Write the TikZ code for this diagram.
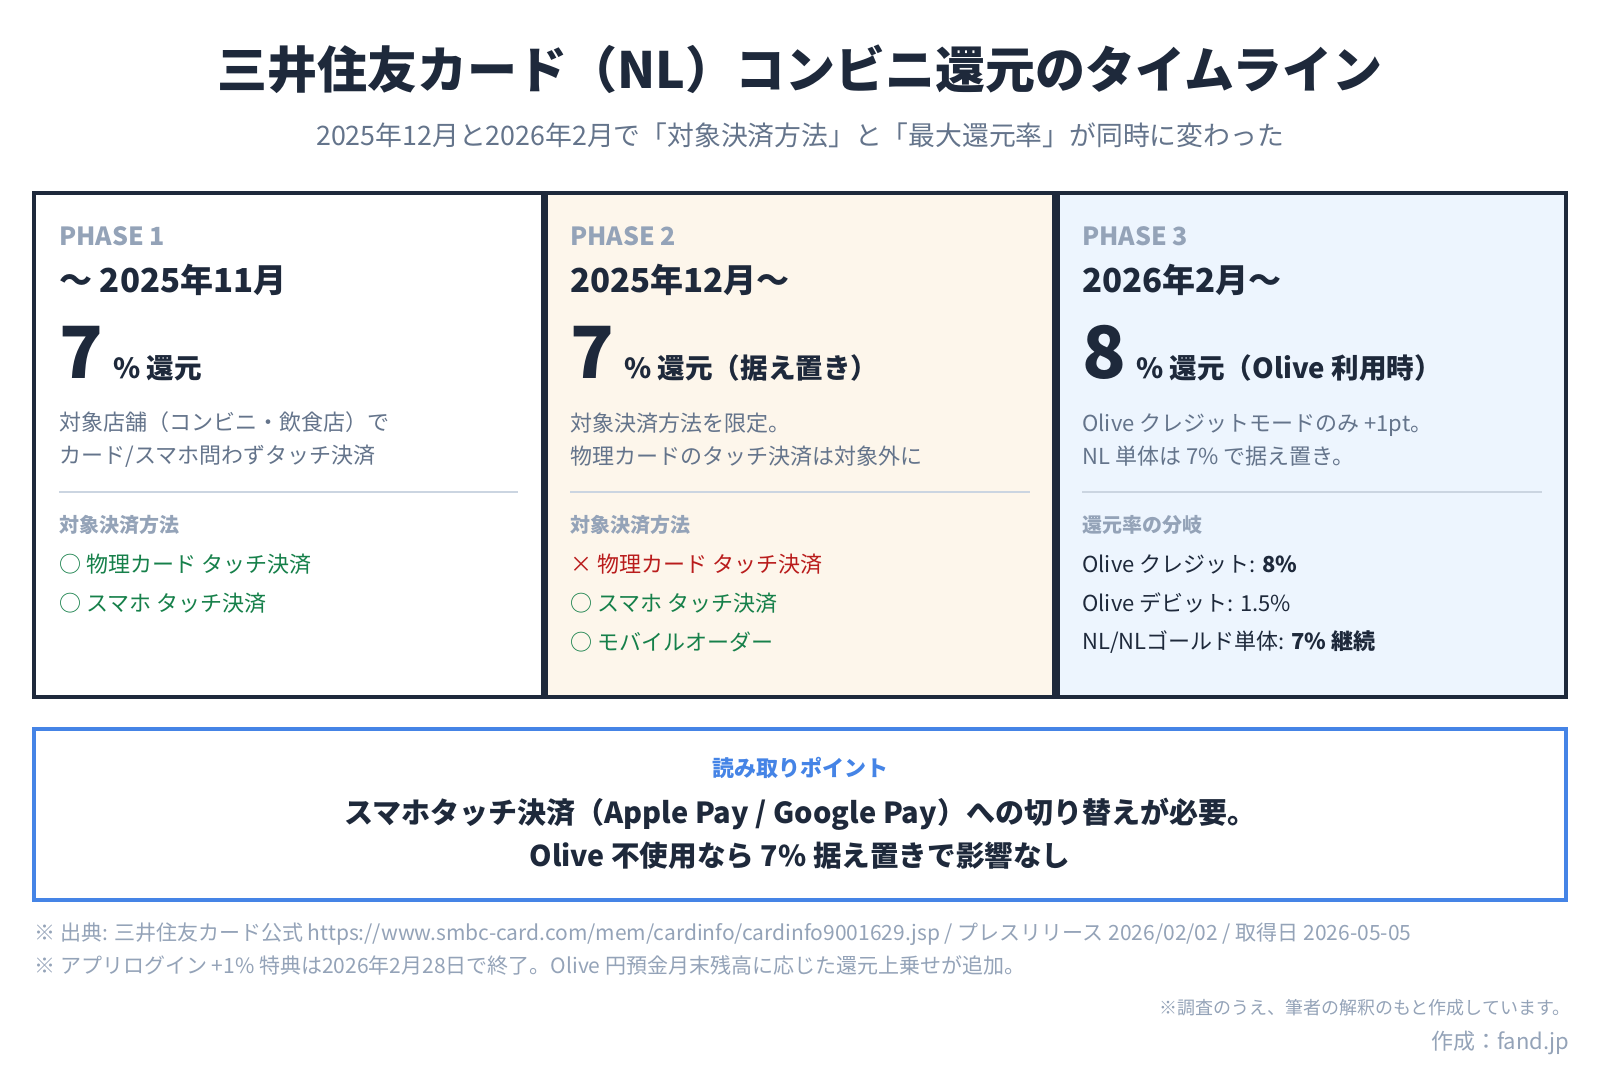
\documentclass[tikz,border=0pt]{standalone}
\usepackage{fontspec}
\setmainfont{Noto Sans CJK JP}
\usepackage{tikz}

\definecolor{navy}{HTML}{1E293B}
\definecolor{phasegray}{HTML}{94A3B8}
\definecolor{descgray}{HTML}{64748B}
\definecolor{rulegray}{HTML}{CBD5E1}
\definecolor{okgreen}{HTML}{16804A}
\definecolor{ngred}{HTML}{B91C1C}
\definecolor{cream}{HTML}{FDF6EB}
\definecolor{paleblue}{HTML}{EDF5FE}
\definecolor{pointblue}{HTML}{4584E6}

\newcommand{\bigrate}{\fontsize{36}{36}\selectfont}

\tikzset{
  txt/.style={inner sep=0pt, anchor=west, text=navy},
  phaselbl/.style={txt, text=phasegray, font=\bfseries\fontsize{12.5}{15}\selectfont},
  datelbl/.style={txt, font=\bfseries\fontsize{16.5}{19}\selectfont},
  ratelbl/.style={txt, anchor=base west, font=\bfseries\fontsize{13.8}{16}\selectfont},
  desc/.style={txt, text=descgray, align=left, font=\fontsize{11}{16.5}\selectfont},
  subhd/.style={txt, text=phasegray, font=\bfseries\fontsize{10}{12}\selectfont},
  okitem/.style={txt, text=okgreen, font=\fontsize{11}{13}\selectfont},
  ngitem/.style={txt, text=ngred, font=\fontsize{11}{13}\selectfont},
  rateitem/.style={txt, font=\fontsize{11}{13}\selectfont},
  note/.style={txt, text=phasegray, font=\fontsize{10.5}{12}\selectfont}
}

\begin{document}
\begin{tikzpicture}[x=0.5pt, y=-0.5pt]
    \useasboundingbox[fill=white] (0,0) rectangle (1600,1084);
    % Title
    \node (title) at (800,69) [inner sep=0pt, text=navy, font=\bfseries\fontsize{25}{29}\selectfont] {三井住友カード（NL）コンビニ還元のタイムライン};
    \node (subtitle) at (800,135) [inner sep=0pt, text=descgray, font=\fontsize{13.4}{15}\selectfont] {2025年12月と2026年2月で「対象決済方法」と「最大還元率」が同時に変わった};
    % Panels
    \fill[navy] (32,191) rectangle (1568,699);
    \fill[white] (36,195) rectangle (541,695);
    \fill[cream] (548,195) rectangle (1052,695);
    \fill[paleblue] (1060,195) rectangle (1564,695);
    \draw[rulegray, line width=1pt] (59,492) -- (518,492);
    \draw[rulegray, line width=1pt] (570,492) -- (1030,492);
    \draw[rulegray, line width=1pt] (1082,492) -- (1542,492);
    % Phase 1
    \node (ph1) at (59,236) [phaselbl] {PHASE 1};
    \node (date1) at (59,280) [datelbl] {〜 2025年11月};
    \node (rate1) at (59,378) [ratelbl] {{\bigrate 7}\hspace{5pt}\% 還元};
    \node (desc1) at (59,439.5) [desc] {対象店舗（コンビニ・飲食店）で\\カード/スマホ問わずタッチ決済};
    \node (sub1) at (59,525) [subhd] {対象決済方法};
    \node (pay1a) at (59,564) [okitem] {○ 物理カード タッチ決済};
    \node (pay1b) at (59,603) [okitem] {○ スマホ タッチ決済};
    % Phase 2
    \node (ph2) at (570,236) [phaselbl] {PHASE 2};
    \node (date2) at (570,280) [datelbl] {2025年12月〜};
    \node (rate2) at (570,378) [ratelbl] {{\bigrate 7}\hspace{5pt}\% 還元（据え置き）};
    \node (desc2) at (570,439.5) [desc] {対象決済方法を限定。\\物理カードのタッチ決済は対象外に};
    \node (sub2) at (570,525) [subhd] {対象決済方法};
    \node (pay2a) at (570,564) [ngitem] {× 物理カード タッチ決済};
    \node (pay2b) at (570,603) [okitem] {○ スマホ タッチ決済};
    \node (pay2c) at (570,642) [okitem] {○ モバイルオーダー};
    % Phase 3
    \node (ph3) at (1082,236) [phaselbl] {PHASE 3};
    \node (date3) at (1082,280) [datelbl] {2026年2月〜};
    \node (rate3) at (1082,378) [ratelbl] {{\bigrate 8}\hspace{5pt}\% 還元（Olive 利用時）};
    \node (desc3) at (1082,439.5) [desc] {Olive クレジットモードのみ +1pt。\\NL 単体は 7\% で据え置き。};
    \node (sub3) at (1082,525) [subhd] {還元率の分岐};
    \node (br3a) at (1082,564) [rateitem] {Olive クレジット: \textbf{8\%}};
    \node (br3b) at (1082,603) [rateitem] {Olive デビット: 1.5\%};
    \node (br3c) at (1082,642) [rateitem] {NL/NLゴールド単体: \textbf{7\% 継続}};
    % Reading point
    \draw[pointblue, line width=2pt] (34,729) rectangle (1566,900);
    \node (pthead) at (800,768) [inner sep=0pt, text=pointblue, font=\bfseries\fontsize{11}{13}\selectfont] {読み取りポイント};
    \node (ptline1) at (800,814) [inner sep=0pt, text=navy, font=\bfseries\fontsize{14.5}{17}\selectfont] {スマホタッチ決済（Apple Pay / Google Pay）への切り替えが必要。};
    \node (ptline2) at (800,856) [inner sep=0pt, text=navy, font=\bfseries\fontsize{14.3}{17}\selectfont] {Olive 不使用なら 7\% 据え置きで影響なし};
    % Notes
    \node (src) at (34,934) [note] {※ 出典: 三井住友カード公式 https://www.smbc-card.com/mem/cardinfo/cardinfo9001629.jsp / プレスリリース 2026/02/02 / 取得日 2026-05-05};
    \node (memo) at (34,965) [note] {※ アプリログイン +1\% 特典は2026年2月28日で終了。Olive 円預金月末残高に応じた還元上乗せが追加。};
    \node (caveat) at (1571,1008) [txt, anchor=east, text=phasegray, font=\fontsize{9}{11}\selectfont] {※調査のうえ、筆者の解釈のもと作成しています。};
    \node (credit) at (1570,1043) [txt, anchor=east, text=phasegray, font=\fontsize{11}{13}\selectfont] {作成：fand.jp};
\end{tikzpicture}
\end{document}
